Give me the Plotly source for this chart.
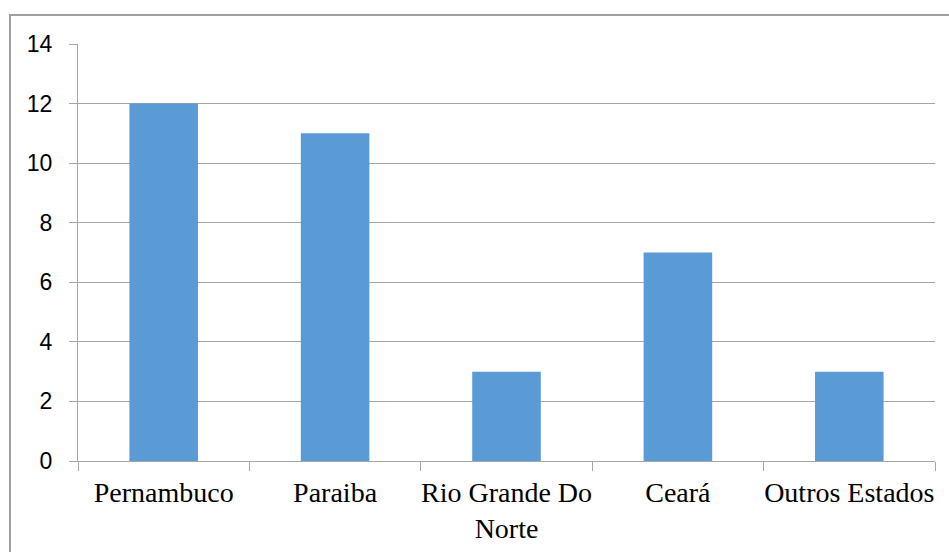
import plotly.graph_objects as go

categories = ["Pernambuco", "Paraiba", "Rio Grande Do<br>Norte", "Ceará", "Outros Estados"]
values = [12, 11, 3, 7, 3]
y_ticks = [0, 2, 4, 6, 8, 10, 12, 14]

W, H = 949, 552
L, R, T, B = 78, 14, 44, 91
pw, ph = W - L - R, H - T - B
grid = "#A6A6A6"

fig = go.Figure(go.Bar(x=categories, y=values, marker=dict(color="#5B9BD5", line=dict(width=0)), width=0.4))

fig.update_layout(
    width=W, height=H,
    margin=dict(l=L, r=R, t=T, b=B, pad=0),
    paper_bgcolor="white", plot_bgcolor="white",
    showlegend=False,
    xaxis=dict(
        type="category", tickson="boundaries", ticks="outside", ticklen=9, tickcolor=grid,
        showline=True, linecolor=grid, linewidth=1, showgrid=False, zeroline=False,
        tickfont=dict(family="'Liberation Serif', 'Times New Roman', 'DejaVu Serif', serif", size=28, color="black"),
        ticklabelstandoff=6, tickangle=0, automargin=False,
    ),
    yaxis=dict(
        range=[0, 14], tickvals=y_ticks, ticks="outside", ticklen=8, tickcolor=grid,
        showline=True, linecolor=grid, linewidth=1,
        showgrid=True, gridcolor=grid, gridwidth=1, zeroline=False,
        tickfont=dict(family="'Liberation Sans', Arial, sans-serif", size=23, color="black"),
        ticklabelstandoff=12, automargin=False,
    ),
    shapes=[dict(
        type="rect", xref="paper", yref="paper",
        x0=(10 - L) / pw, x1=1 + 40 / pw,
        y0=-0.5, y1=1 + (T - 15) / ph,
        line=dict(color="#A0A0A0", width=2), layer="below",
    )],
)

fig.write_html("out.html")
